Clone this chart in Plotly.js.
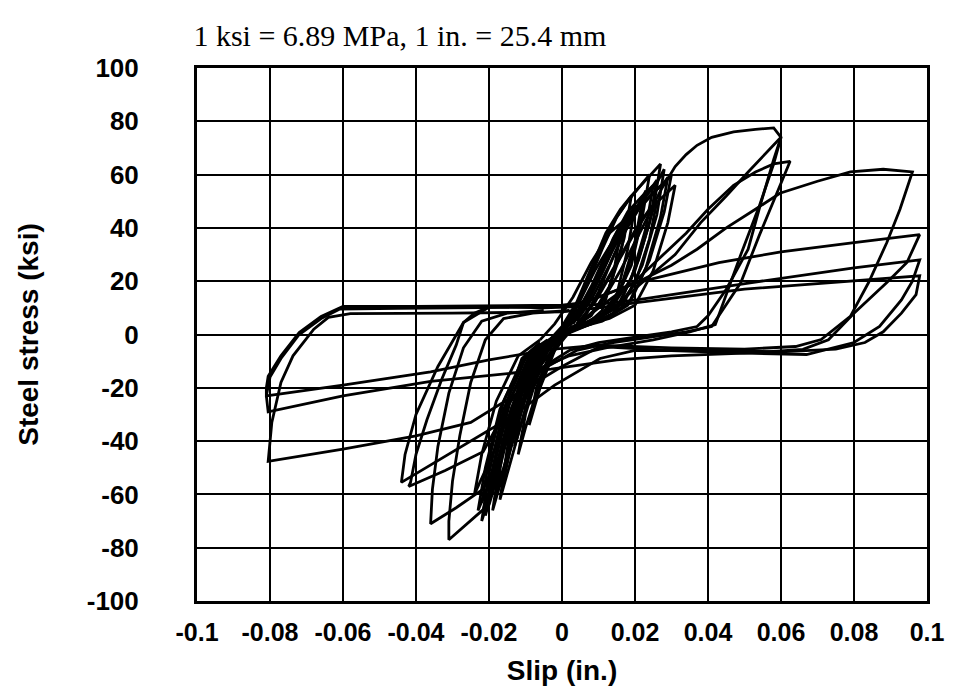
<!DOCTYPE html>
<html><head><meta charset="utf-8">
<script src="https://cdn.plot.ly/plotly-3.0.1.min.js"></script>
<style>html,body{margin:0;padding:0;background:#fff}</style>
</head><body>
<div id="chart" style="width:955px;height:690px"></div>
<script>
// Tick labels
const xTickVals = [-0.1, -0.08, -0.06, -0.04, -0.02, 0, 0.02, 0.04, 0.06, 0.08, 0.1];
const xTickText = ["-0.1", "-0.08", "-0.06", "-0.04", "-0.02", "0", "0.02", "0.04", "0.06", "0.08", "0.1"];
const yTickVals = [-100, -80, -60, -40, -20, 0, 20, 40, 60, 80, 100];
const yTickText = ["-100", "-80", "-60", "-40", "-20", "0", "20", "40", "60", "80", "100"];

// Small (core) cycles: slip (in.) and steel stress (ksi)
const core1Slip   = [-0.003, 0.001, 0.005, 0.009, 0.013, 0.016, 0.014, 0.011, 0.007, 0.002, -0.003, -0.007, -0.010, -0.013, -0.011, -0.008, -0.004, 0.000];
const core1Stress = [-2, 4, 13, 24, 33, 38, 22, 9, 4, 2, -4, -15, -28, -42, -26, -11, -3, 1];
const core2Slip   = [0.000, 0.004, 0.008, 0.012, 0.016, 0.020, 0.018, 0.015, 0.010, 0.004, -0.002, -0.006, -0.010, -0.013, -0.016, -0.014, -0.010, -0.005, 0.001];
const core2Stress = [1, 8, 18, 30, 41, 48, 32, 15, 6, 3, -2, -10, -24, -38, -52, -34, -14, -4, 2];
const core3Slip   = [0.002, 0.006, 0.010, 0.014, 0.018, 0.021, 0.023, 0.021, 0.017, 0.012, 0.006, 0.000, -0.005, -0.009, -0.012, -0.015, -0.018, -0.016, -0.012, -0.007, -0.001];
const core3Stress = [3, 10, 21, 33, 43, 49, 54, 38, 20, 8, 4, 0, -6, -18, -32, -46, -59, -42, -20, -6, 0];
const core4Slip   = [0.001, 0.005, 0.009, 0.013, 0.017, 0.021, 0.024, 0.026, 0.024, 0.020, 0.015, 0.008, 0.001, -0.005, -0.010, -0.014, -0.017, -0.020, -0.018, -0.014, -0.008, -0.002];
const core4Stress = [2, 9, 20, 32, 42, 49, 54, 58, 42, 24, 10, 5, 1, -5, -17, -33, -50, -64, -46, -24, -7, -1];
const core5Slip   = [0.003, 0.007, 0.011, 0.015, 0.019, 0.023, 0.026, 0.028, 0.026, 0.022, 0.017, 0.010, 0.002, -0.004, -0.009, -0.013, -0.017, -0.019, -0.021, -0.019, -0.015, -0.009, -0.003];
const core5Stress = [4, 12, 23, 35, 45, 52, 57, 62, 45, 26, 12, 6, 2, -4, -14, -29, -46, -58, -68, -50, -27, -8, -2];
const core6Slip   = [0.004, 0.008, 0.013, 0.017, 0.021, 0.025, 0.028, 0.029, 0.027, 0.023, 0.018, 0.011, 0.003, -0.003, -0.008, -0.012, -0.016, -0.019, -0.022, -0.020, -0.016, -0.010, -0.004];
const core6Stress = [5, 13, 26, 38, 47, 53, 57, 59, 44, 25, 11, 5, 2, -3, -12, -26, -43, -57, -70, -52, -28, -9, -3];
const core7Slip   = [-0.001, 0.003, 0.007, 0.011, 0.015, 0.019, 0.023, 0.027, 0.025, 0.021, 0.016, 0.009, 0.002, -0.004, -0.008, -0.012, -0.015, -0.019, -0.017, -0.013, -0.007, -0.001];
const core7Stress = [0, 7, 19, 32, 44, 52, 58, 64, 47, 28, 12, 5, 1, -5, -16, -31, -47, -66, -48, -25, -7, 0];
const core8Slip   = [0.002, 0.006, 0.010, 0.014, 0.018, 0.022, 0.025, 0.023, 0.019, 0.013, 0.006, 0.000, -0.006, -0.011, -0.015, -0.019, -0.022, -0.020, -0.016, -0.010, -0.004];
const core8Stress = [3, 11, 23, 36, 46, 52, 56, 40, 21, 9, 4, 0, -7, -21, -38, -53, -63, -47, -25, -8, -2];
const core9Slip   = [0.000, 0.004, 0.009, 0.014, 0.019, 0.024, 0.028, 0.030, 0.028, 0.024, 0.019, 0.012, 0.004, -0.002, -0.007, -0.011, -0.015, -0.019, -0.023, -0.021, -0.017, -0.011, -0.005];
const core9Stress = [2, 8, 19, 32, 44, 52, 57, 60, 46, 28, 13, 6, 3, -2, -10, -22, -38, -53, -66, -50, -28, -10, -3];
const core10Slip   = [-0.002, 0.002, 0.006, 0.010, 0.014, 0.018, 0.021, 0.024, 0.022, 0.019, 0.014, 0.008, 0.001, -0.004, -0.008, -0.011, -0.014, -0.017, -0.015, -0.011, -0.006, 0.000];
const core10Stress = [-1, 6, 17, 30, 42, 50, 55, 60, 44, 26, 11, 4, 0, -6, -18, -33, -48, -62, -44, -22, -6, 1];
const core11Slip   = [0.005, 0.010, 0.015, 0.020, 0.024, 0.028, 0.031, 0.029, 0.025, 0.020, 0.013, 0.005, -0.001, -0.006, -0.011, -0.016, -0.020, -0.024, -0.022, -0.018, -0.012, -0.006];
const core11Stress = [5, 15, 27, 39, 47, 52, 56, 42, 24, 11, 6, 3, -1, -8, -20, -35, -48, -60, -45, -25, -8, -2];
const core12Slip   = [-0.004, 0.000, 0.004, 0.008, 0.012, 0.016, 0.019, 0.017, 0.013, 0.008, 0.002, -0.004, -0.008, -0.011, -0.014, -0.016, -0.014, -0.010, -0.005, 0.000];
const core12Stress = [-3, 3, 12, 25, 38, 47, 52, 36, 18, 7, 2, -4, -14, -28, -42, -55, -38, -17, -5, 0];
const core13Slip   = [0.006, 0.010, 0.014, 0.018, 0.022, 0.020, 0.016, 0.011, 0.005, 0.001, -0.003, -0.007, -0.010, -0.012, -0.010, -0.006, -0.001, 0.004];
const core13Stress = [6, 16, 29, 41, 50, 35, 17, 7, 3, 0, -8, -22, -35, -45, -30, -12, -3, 3];
const core14Slip   = [-0.006, -0.002, 0.003, 0.008, 0.013, 0.018, 0.016, 0.012, 0.006, 0.000, -0.006, -0.010, -0.014, -0.017, -0.020, -0.018, -0.015, -0.011, -0.006];
const core14Stress = [-2, 4, 14, 27, 38, 44, 30, 14, 5, 1, -4, -14, -28, -44, -60, -44, -25, -9, -3];
const core15Slip   = [0.004, 0.009, 0.014, 0.019, 0.023, 0.026, 0.024, 0.020, 0.014, 0.008, 0.002, -0.002, -0.006, -0.009, -0.007, -0.003, 0.002];
const core15Stress = [4, 12, 24, 36, 45, 50, 36, 19, 8, 4, 1, -6, -20, -34, -20, -6, 1];

// Large cycles
const loopASlip   = [0.004, 0.010, 0.016, 0.022, 0.027, 0.031, 0.034, 0.037, 0.041, 0.047, 0.053, 0.058, 0.060, 0.058, 0.054, 0.051, 0.045, 0.040, 0.037, 0.030, 0.020, 0.010, 0.002, -0.005, -0.011, -0.016, -0.0216, -0.026, -0.031, -0.031, -0.030, -0.028, -0.025, -0.021, -0.016, -0.008, 0.002];
const loopAStress = [3, 10, 24, 40, 54, 63, 67.5, 71, 74, 76, 77, 77.5, 74, 65.7, 47, 32, 17, 7, 3, 1, -1, -3, -6, -12, -25, -42, -65.7, -71, -77, -70, -55, -38, -18, -2, 6, 8, 9];
const loopBSlip   = [0.005, 0.012, 0.020, 0.027, 0.034, 0.040, 0.047, 0.053, 0.058, 0.0625, 0.061, 0.059, 0.054, 0.049, 0.043, 0.041, 0.034, 0.024, 0.014, 0.004, -0.004, -0.010, -0.015, -0.0216, -0.029, -0.036, -0.0355, -0.034, -0.031, -0.027, -0.022, -0.015, -0.005];
const loopBStress = [5, 12, 20, 29, 38, 47, 56, 61, 64, 65, 60, 54, 37, 19.5, 6.8, 3, 1, -1, -3, -6, -12, -24, -40, -58, -65, -71, -58, -42, -22, -5, 5, 8, 9];
const loopCSlip   = [0.006, 0.014, 0.022, 0.031, 0.038, 0.045, 0.051, 0.056, 0.060, 0.058, 0.054, 0.049, 0.045, 0.042, 0.035, 0.025, 0.012, 0.002, -0.008, -0.014, -0.0216, -0.032, -0.042, -0.0415, -0.040, -0.037, -0.033, -0.029, -0.027, -0.024, -0.0197, -0.010, 0.000];
const loopCStress = [4, 10, 19.5, 30, 42, 52, 61, 68, 74, 64, 48, 30, 15, 3.7, 1, -2, -5, -8, -14, -25, -44, -51, -57, -55.5, -45, -32, -17, -4, 4.5, 8, 10.5, 10.5, 10.8];
const loopDSlip   = [0.000, 0.010, 0.0205, 0.030, 0.037, 0.045, 0.053, 0.0597, 0.070, 0.079, 0.088, 0.096, 0.0926, 0.089, 0.084, 0.079, 0.071, 0.064, 0.050, 0.030, 0.010, -0.003, -0.020, -0.036, -0.060, -0.081, -0.081, -0.0805, -0.077, -0.072, -0.066, -0.060, -0.040, -0.020, 0.000, 0.006];
const loopDStress = [10, 14, 19.5, 26, 32, 40, 47, 53, 57.5, 61, 62, 61, 47, 34.5, 19.5, 6.8, -1.9, -4.5, -5.5, -5, -4, -5.6, -9.5, -14, -19, -23, -20, -15.7, -8, 0.7, 6.8, 10.5, 10.5, 10.8, 11, 12];
const loopESlip   = [0.006, 0.0205, 0.043, 0.060, 0.080, 0.098, 0.0945, 0.089, 0.080, 0.073, 0.066, 0.050, 0.030, 0.015, -0.003, -0.020, -0.036, -0.060, -0.0805, -0.081, -0.080, -0.077, -0.072, -0.066, -0.061, -0.045, -0.025, -0.005, 0.008];
const loopEStress = [12, 19.5, 27, 31, 34.5, 37.5, 27, 19.5, 8, -2, -5.6, -7, -8, -9.5, -13, -15.5, -17.6, -23, -29, -23, -16, -9, 0, 6, 9.5, 9.8, 10, 10.3, 11];
const loopFSlip   = [0.008, 0.0205, 0.052, 0.080, 0.098, 0.096, 0.093, 0.087, 0.080, 0.067, 0.050, 0.030, 0.0104, 0.000, -0.012, -0.025, -0.040, -0.060, -0.0805, -0.080, -0.0795, -0.077, -0.0737, -0.068, -0.064, -0.058, -0.030, 0.000, 0.010];
const loopFStress = [11, 13, 19.5, 25, 28, 20, 13, 3, -3, -7.5, -7, -6, -4.5, -12, -22, -33, -38, -43, -47.6, -39, -33, -18, -8, 2, 6.4, 7.8, 8, 8.5, 10];
const loopGSlip   = [0.010, 0.0205, 0.050, 0.080, 0.098, 0.097, 0.093, 0.088, 0.083, 0.075, 0.060, 0.040, 0.020, 0.0104, -0.002, -0.014, -0.030, -0.044, -0.043, -0.040, -0.034, -0.027, -0.0197, -0.005, 0.005];
const loopGStress = [10, 12, 17, 20, 22, 15, 8, 1, -3, -5.5, -6.5, -6, -6, -9, -19, -31, -44, -55.5, -45, -30, -12, 4.5, 10.5, 10, 10.5];

const cycles = [
  [core1Slip, core1Stress], [core2Slip, core2Stress], [core3Slip, core3Stress], [core4Slip, core4Stress],
  [core5Slip, core5Stress], [core6Slip, core6Stress], [core7Slip, core7Stress], [core8Slip, core8Stress],
  [core9Slip, core9Stress], [core10Slip, core10Stress], [core11Slip, core11Stress], [core12Slip, core12Stress],
  [core13Slip, core13Stress], [core14Slip, core14Stress], [core15Slip, core15Stress],
  [loopASlip, loopAStress], [loopBSlip, loopBStress], [loopCSlip, loopCStress], [loopDSlip, loopDStress],
  [loopESlip, loopEStress], [loopFSlip, loopFStress], [loopGSlip, loopGStress]
];

const traces = cycles.map(function (c) {
  return {
    x: c[0], y: c[1], type: 'scatter', mode: 'lines',
    line: {color: '#000', width: 2.8, shape: 'linear'},
    hoverinfo: 'skip', showlegend: false
  };
});

const sansBold = {family: 'Liberation Sans, Arial, Helvetica, sans-serif', color: '#000', weight: 'bold'};

const layout = {
  width: 955, height: 690,
  margin: {l: 197, r: 28, t: 68, b: 89, pad: 0},
  paper_bgcolor: '#fff', plot_bgcolor: '#fff',
  showlegend: false,
  title: {
    text: '1 ksi = 6.89 MPa, 1 in. = 25.4 mm',
    font: {family: 'Liberation Serif, Times New Roman, serif', size: 30, color: '#000'},
    xref: 'paper', x: 0.278, xanchor: 'center',
    yref: 'container', y: 0.948, yanchor: 'middle'
  },
  xaxis: {
    range: [-0.1, 0.1], tickmode: 'array', tickvals: xTickVals, ticktext: xTickText,
    showgrid: true, gridcolor: '#000', gridwidth: 2, zeroline: false,
    showline: true, mirror: true, linecolor: '#000', linewidth: 3,
    ticks: '', ticklabelstandoff: 7,
    tickfont: Object.assign({size: 25}, sansBold),
    title: {text: 'Slip (in.)', font: Object.assign({size: 28}, sansBold), standoff: 16},
    fixedrange: true
  },
  yaxis: {
    range: [-100, 100], tickmode: 'array', tickvals: yTickVals, ticktext: yTickText,
    showgrid: true, gridcolor: '#000', gridwidth: 2, zeroline: false,
    showline: true, mirror: true, linecolor: '#000', linewidth: 3,
    ticks: '', ticklabelstandoff: 50,
    tickfont: Object.assign({size: 26}, sansBold),
    title: {text: 'Steel stress (ksi)', font: Object.assign({size: 28}, sansBold), standoff: 40},
    fixedrange: true
  }
};

Plotly.newPlot('chart', traces, layout, {staticPlot: true, displayModeBar: false});
</script>
</body></html>
